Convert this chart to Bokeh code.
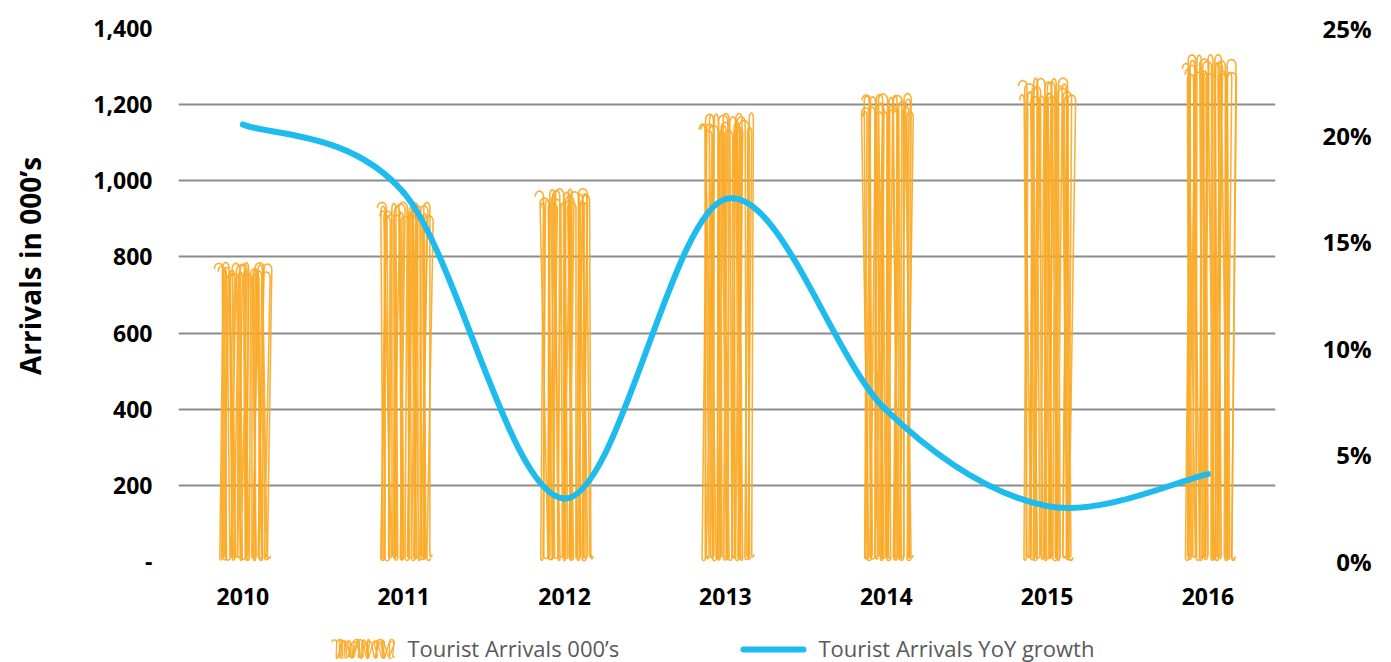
import numpy as np
from bokeh.plotting import figure
from bokeh.models import (Range1d, LinearAxis, FixedTicker, CustomJSTickFormatter, ColumnDataSource)
from bokeh.core.properties import value
from bokeh.layouts import column
from bokeh.embed import file_html
from bokeh.resources import INLINE

# ---------------- data ----------------
years = ["2010", "2011", "2012", "2013", "2014", "2015", "2016"]
arrivals = [770, 925, 960, 1155, 1205, 1245, 1305]      # thousands
growth = [20.5, 17.3, 2.95, 17.0, 7.1, 2.6, 4.1]        # percent YoY
left_ticks = [0, 200, 400, 600, 800, 1000, 1200, 1400]
right_ticks = [0, 5, 10, 15, 20, 25]
legend_labels = ["Tourist Arrivals 000\u2019s", "Tourist Arrivals YoY growth"]

ORANGE = "#F9A825"
BLUE = "#1DBBEE"
GRID = "#8C8C8C"
FONT = "Open Sans"

xpos = np.arange(len(years), dtype=float)

# ---------- hand-drawn hachure path (rounded zig-zag) ----------
def hachure(left, right, bot, top, n, rx, ry, ryb, seed, var=0.02):
    step = (right - left) / n
    xs, ys = [], []
    th_top = np.linspace(np.pi, 0, 11)
    th_bot = np.linspace(np.pi, 2 * np.pi, 7)
    for k in range(n + 1):
        jb = 0.5 * step * np.sin(2.3 * k + seed)
        xb = left + k * step + jb
        bk = bot + 0.8 * ryb * (1 + np.sin(1.7 * k + seed))
        r = 0.5 * rx * (0.8 + 0.3 * np.sin(3.1 * k + seed))
        if k > 0:
            xs.extend(xb + r * np.cos(th_bot))
            ys.extend(bk + ryb + ryb * np.sin(th_bot))
        if k == n:
            break
        jt = 0.55 * step * np.sin(1.9 * k + 2 * seed)
        xt = left + (k + 0.5) * step + jt
        tk = top * (1 + var * np.sin(1.3 * k + seed))
        r = rx * (0.85 + 0.35 * np.sin(2.7 * k + seed))
        xs.extend(xt + r * np.cos(th_top))
        ys.extend(tk - ry + ry * np.sin(th_top))
    return np.array(xs), np.array(ys)

p = figure(width=1391, height=620, x_range=Range1d(-0.4, 6.42), y_range=Range1d(0, 1400),
           output_backend="svg", toolbar_location=None,
           min_border_left=178, min_border_right=116, min_border_top=28, min_border_bottom=59)
p.outline_line_color = None
p.xgrid.visible = False
p.ygrid.ticker = FixedTicker(ticks=left_ticks)
p.ygrid.grid_line_color = GRID
p.ygrid.grid_line_width = 2

# bars (px scale: x 1 unit ~ 160.7 px, y 1 unit ~ 0.381 px)
RX = 3.8 / 160.7
RY = 5.5 / 0.381
RYB = 2.5 / 0.381
hx, hy = [], []
for i, (c, v) in enumerate(zip(xpos, arrivals)):
    for n, seed, sh in [(11, 0.4 + i, 0.0), (12, 2.1 + 1.3 * i, 0.005)]:
        a, b = hachure(c - 0.155 + sh, c + 0.155 + sh, 2.0, v, n, RX, RY, RYB, seed)
        hx.append(a)
        hy.append(b)
p.multi_line(xs=hx, ys=hy, line_color=ORANGE, line_width=1.6, line_alpha=0.9,
             line_join="round")

# smoothed growth line (Catmull-Rom -> Bezier control points)
p.extra_y_ranges = {"pct": Range1d(0, 25)}
P = np.column_stack([xpos, np.array(growth, dtype=float)])
n = len(P)
Pe = np.vstack([P[0], P, P[-1]])
c0 = P[:-1] + (Pe[2:n + 1] - Pe[0:n - 1]) / 6.0
c1 = P[1:] - (Pe[3:n + 2] - Pe[1:n]) / 6.0
src_line = ColumnDataSource(dict(x0=P[:-1, 0], y0=P[:-1, 1], x1=P[1:, 0], y1=P[1:, 1],
                                 cx0=c0[:, 0], cy0=c0[:, 1], cx1=c1[:, 0], cy1=c1[:, 1]))
p.bezier(x0="x0", y0="y0", x1="x1", y1="y1", cx0="cx0", cy0="cy0", cx1="cx1", cy1="cy1",
         source=src_line, y_range_name="pct", line_color=BLUE, line_width=6, line_cap="round")

# axes
def style_axis(ax, size="23px"):
    ax.axis_line_color = None
    ax.major_tick_line_color = None
    ax.minor_tick_line_color = None
    ax.major_label_text_font = FONT
    ax.major_label_text_font_style = "bold"
    ax.major_label_text_font_size = size
    ax.major_label_text_color = "#000000"

xa = p.below[0]
xa.ticker = FixedTicker(ticks=list(xpos))
xa.major_label_overrides = {i: y for i, y in enumerate(years)}
style_axis(xa)
xa.major_label_standoff = 20

ya = p.left[0]
ya.ticker = FixedTicker(ticks=left_ticks)
ya.formatter = CustomJSTickFormatter(code='return tick == 0 ? "-" : tick.toLocaleString("en-US");')
style_axis(ya)
ya.major_label_standoff = 20
# leading no-break spaces lift the rotated title a little above the frame centre, as in the original
ya.axis_label = "\u00a0" * 8 + "Arrivals in 000\u2019s"
ya.axis_label_text_font = FONT
ya.axis_label_text_font_style = "bold"
ya.axis_label_text_font_size = "28px"
ya.axis_label_text_color = "#000000"
ya.axis_label_standoff = 41

ra = LinearAxis(y_range_name="pct", ticker=FixedTicker(ticks=right_ticks),
                formatter=CustomJSTickFormatter(code='return (tick < 10 ? "\u2007" : "") + tick + "%";'))
style_axis(ra, "24px")
ra.major_label_standoff = 41
p.add_layout(ra, "right")

# ---------- legend row (coordinates = page pixels) ----------
lg = figure(width=1391, height=42, x_range=Range1d(178, 1275), y_range=Range1d(0, 42),
            output_backend="svg", toolbar_location=None,
            min_border_left=178, min_border_right=116, min_border_top=0, min_border_bottom=0,
            x_axis_location=None, y_axis_location=None)
lg.outline_line_color = None
lg.grid.visible = False
sx, sy = [], []
for nn, seed, sh in [(11, 0.7, 0.0), (12, 2.5, 1.0)]:
    a, b = hachure(333 + sh, 391 + sh, 4, 22, nn, 2.2, 2.5, 1.0, seed, var=0.05)
    sx.append(a)
    sy.append(b)
lg.multi_line(xs=sx, ys=sy, line_color=ORANGE, line_width=1.4, line_alpha=0.9)
lg.line(x=[743, 803], y=[13, 13], line_color=BLUE, line_width=6, line_cap="round")
lg.text(x=[407, 818], y=[15, 15], text=legend_labels, text_font=value(FONT),
        text_font_size="22px", text_color="#595959", text_baseline="middle")

layout = column(p, lg, spacing=0)
open("out.html", "w").write(file_html(layout, INLINE))
